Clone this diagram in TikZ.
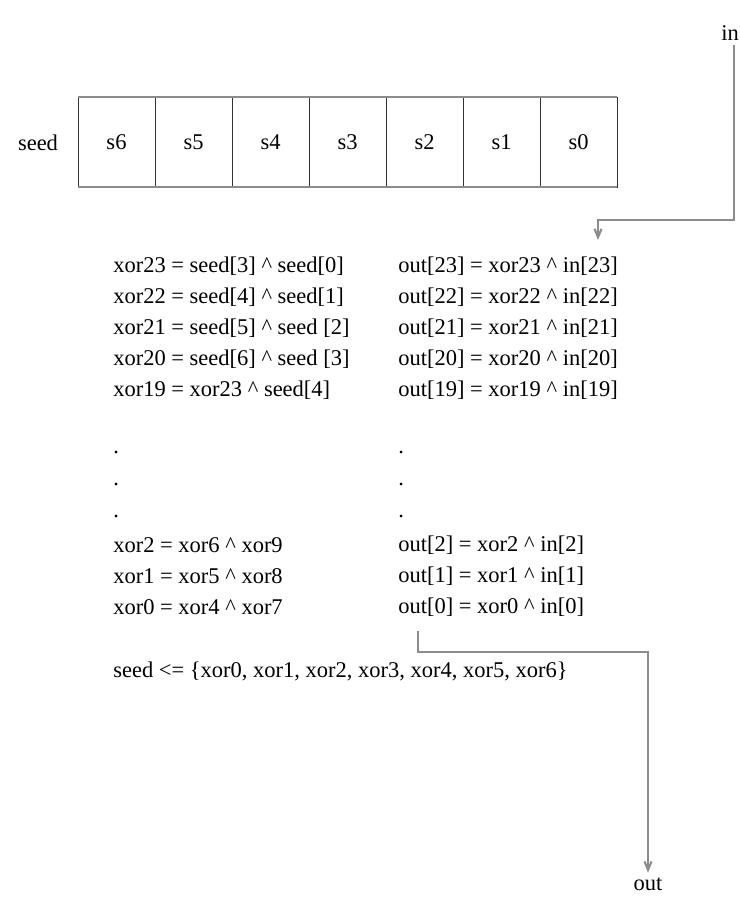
\documentclass[tikz,border=0pt]{standalone}
\usepackage{fontspec}
\setmainfont{Liberation Serif}
\usetikzlibrary{arrows.meta}

\begin{document}
\begin{tikzpicture}[x=0.025cm, y=-0.025cm,
  font=\fontsize{16}{19}\selectfont,
  cell/.style={draw=black!80, line width=0.5pt, minimum width=1.925cm, minimum height=2.25cm, inner sep=0pt},
  wire/.style={draw=black!45, line width=1.5pt},
  eqn/.style={anchor=west, inner sep=0pt},
  tip/.style={-{Straight Barb[length=6pt,width=5pt]}}]

\useasboundingbox (0,0) rectangle (740,900);

\node (seedlbl) at (38,143) {seed};

\node (s6) at (116.5,142) [cell] {s6};
\node (s5) at (193.5,142) [cell] {s5};
\node (s4) at (270.5,142) [cell] {s4};
\node (s3) at (347.5,142) [cell] {s3};
\node (s2) at (424.5,142) [cell] {s2};
\node (s1) at (501.5,142) [cell] {s1};
\node (s0) at (578.5,142) [cell] {s0};

\draw[wire] (s6.north west) -- (s0.north east);
\draw[wire] (s6.south west) -- (s0.south east);

\node (x23) at (113,266) [eqn] {xor23 = seed[3] \textasciicircum{} seed[0]};
\node (x22) at (113,297) [eqn] {xor22 = seed[4] \textasciicircum{} seed[1]};
\node (x21) at (113,328) [eqn] {xor21 = seed[5] \textasciicircum{} seed [2]};
\node (x20) at (113,359) [eqn] {xor20 = seed[6] \textasciicircum{} seed [3]};
\node (x19) at (113,390) [eqn] {xor19 = xor23 \textasciicircum{} seed[4]};
\node (xd1) at (113,452) [eqn] {.};
\node (xd2) at (113,484) [eqn] {.};
\node (xd3) at (113,516) [eqn] {.};
\node (x2) at (113,545) [eqn] {xor2 = xor6 \textasciicircum{} xor9};
\node (x1) at (113,576) [eqn] {xor1 = xor5 \textasciicircum{} xor8};
\node (x0) at (113,607) [eqn] {xor0 = xor4 \textasciicircum{} xor7};

\node (o23) at (398,266) [eqn] {out[23] = xor23 \textasciicircum{} in[23]};
\node (o22) at (398,297) [eqn] {out[22] = xor22 \textasciicircum{} in[22]};
\node (o21) at (398,328) [eqn] {out[21] = xor21 \textasciicircum{} in[21]};
\node (o20) at (398,359) [eqn] {out[20] = xor20 \textasciicircum{} in[20]};
\node (o19) at (398,390) [eqn] {out[19] = xor19 \textasciicircum{} in[19]};
\node (od1) at (398,452) [eqn] {.};
\node (od2) at (398,484) [eqn] {.};
\node (od3) at (398,516) [eqn] {.};
\node (o2) at (398,545) [eqn] {out[2] = xor2 \textasciicircum{} in[2]};
\node (o1) at (398,576) [eqn] {out[1] = xor1 \textasciicircum{} in[1]};
\node (o0) at (398,607) [eqn] {out[0] = xor0 \textasciicircum{} in[0]};

\node (upd) at (113,671) [eqn] {seed <= \{xor0, xor1, xor2, xor3, xor4, xor5, xor6\}};

\node (in) at (730,33) {in};
\node (out) at (648,884) {out};

\coordinate (inturn) at (734,220);
\coordinate (inend) at (598,240);
\coordinate (outturn) at (648,652);

\draw[wire, tip] (inturn |- in.south) -- (inturn) -| (inend);
\draw[wire, tip] ([xshift=14pt,yshift=-10pt]o0.south west) |- (outturn) -- (out.north);

\end{tikzpicture}
\end{document}
